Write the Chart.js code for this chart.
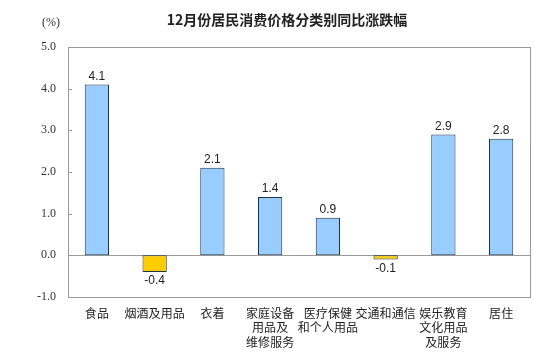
<!DOCTYPE html>
<html>
<head>
<meta charset="utf-8">
<script src="https://cdn.jsdelivr.net/npm/chart.js@4.4.1/dist/chart.umd.min.js"></script>
<style>
html,body{margin:0;padding:0;background:#fff;}
#wrap{width:560px;height:357px;position:relative;}
</style>
</head>
<body>
<div id="wrap"><canvas id="c" width="560" height="357"></canvas></div>
<script>
const titleText = '12月份居民消费价格分类别同比涨跌幅';
const unitText = '(%)';
const categories = [
  ['食品'],
  ['烟酒及用品'],
  ['衣着'],
  ['家庭设备', '用品及', '维修服务'],
  ['医疗保健', '和个人用品'],
  ['交通和通信'],
  ['娱乐教育', '文化用品', '及服务'],
  ['居住']
];
const values = [4.1, -0.4, 2.1, 1.4, 0.9, -0.1, 2.9, 2.8];
const yMin = -1.0, yMax = 5.0, yStep = 1.0;

const posColor = '#99CCFF', negColor = '#FFCC00', edgeColor = '#1E3348';

const cjk = '"Noto Sans CJK SC", "Noto Sans", sans-serif';

const framePlugin = {
  id: 'frame',
  beforeDatasetsDraw(chart) {
    const {ctx, chartArea: a} = chart;
    ctx.save();
    ctx.strokeStyle = '#9a9a9a';
    ctx.lineWidth = 1;
    ctx.strokeRect(Math.round(a.left) + 0.5, Math.round(a.top) + 0.5,
      Math.round(a.right - a.left), Math.round(a.bottom - a.top));
    const y0 = Math.round(chart.scales.y.getPixelForValue(0)) + 0.5;
    ctx.beginPath(); ctx.moveTo(a.left, y0); ctx.lineTo(a.right, y0); ctx.stroke();
    chart.scales.y.ticks.forEach(t => {
      const y = Math.round(chart.scales.y.getPixelForValue(t.value)) + 0.5;
      ctx.beginPath(); ctx.moveTo(a.left, y); ctx.lineTo(a.left + 4, y); ctx.stroke();
    });
    ctx.restore();
  },
  afterDraw(chart) {
    const {ctx} = chart;
    ctx.save();
    ctx.fillStyle = '#222';
    ctx.textAlign = 'center';
    ctx.textBaseline = 'middle';
    ctx.font = 'bold 14px ' + cjk;
    ctx.fillText(titleText, 287, 20);
    ctx.font = '12px "Liberation Serif", serif';
    ctx.fillStyle = '#333';
    ctx.fillText(unitText, 51, 23);
    ctx.restore();
  }
};

const valueLabels = {
  id: 'valueLabels',
  afterDatasetsDraw(chart) {
    const {ctx} = chart;
    const meta = chart.getDatasetMeta(0);
    ctx.save();
    ctx.font = '12px "Liberation Sans", Arial, sans-serif';
    ctx.fillStyle = '#222';
    ctx.textAlign = 'center';
    meta.data.forEach((bar, i) => {
      const v = values[i];
      if (v >= 0) { ctx.textBaseline = 'bottom'; ctx.fillText(v.toFixed(1), bar.x, bar.y - 2); }
      else { ctx.textBaseline = 'top'; ctx.fillText(v.toFixed(1), bar.x, bar.y + 3); }
    });
    ctx.restore();
  }
};

new Chart(document.getElementById('c'), {
  type: 'bar',
  data: {
    labels: categories,
    datasets: [{
      data: values,
      backgroundColor: values.map(v => v >= 0 ? posColor : negColor),
      borderColor: edgeColor,
      borderWidth: 1,
      borderSkipped: false,
      barPercentage: 0.42,
      categoryPercentage: 1.0
    }]
  },
  options: {
    responsive: false,
    animation: false,
    devicePixelRatio: 1,
    layout: { padding: { left: 0, right: 30, top: 47, bottom: 0 } },
    plugins: { legend: { display: false }, tooltip: { enabled: false }, title: { display: false } },
    scales: {
      x: {
        grid: { display: false, drawTicks: false },
        border: { display: false },
        ticks: {
          color: '#222',
          font: { family: cjk, size: 12, lineHeight: 1.2 },
          padding: 9,
          maxRotation: 0,
          autoSkip: false
        },
        afterFit(s) { s.height = 60; }
      },
      y: {
        min: yMin, max: yMax,
        grid: { display: false, drawTicks: false },
        border: { display: false },
        ticks: {
          stepSize: yStep,
          color: '#333',
          padding: 12,
          font: { family: '"Liberation Serif", serif', size: 12 },
          callback: v => Number(v).toFixed(1)
        },
        afterFit(s) { s.width = 68; }
      }
    }
  },
  plugins: [framePlugin, valueLabels]
});
</script>
</body>
</html>
